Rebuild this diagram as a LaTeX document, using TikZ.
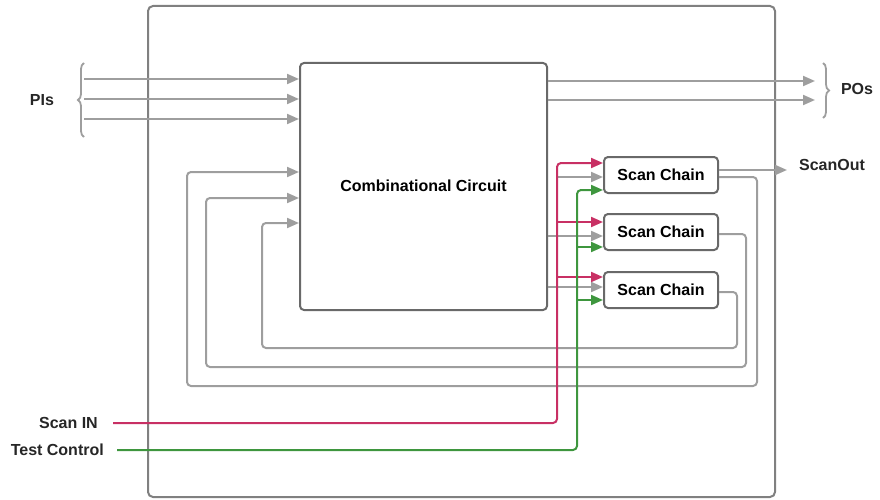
\documentclass[tikz,border=0pt]{standalone}
\usepackage{fontspec}
\setmainfont{Liberation Sans}
\usetikzlibrary{arrows.meta,calc,decorations.pathreplacing}
\usetikzlibrary{positioning}
\definecolor{wiregray}{RGB}{158,158,158}
\definecolor{boxgray}{RGB}{105,105,105}
\definecolor{scanred}{RGB}{200,48,100}
\definecolor{ctrlgreen}{RGB}{62,150,62}

\begin{document}
\begin{tikzpicture}[x=1pt,y=-1pt,
  font=\fontsize{16}{19}\selectfont\bfseries,
  blk/.style={rectangle,rounded corners=4pt,draw=boxgray,line width=2pt,fill=white,inner sep=0pt},
  wire/.style={draw=wiregray,line width=2pt,rounded corners=4pt},
  arr/.style={-{Triangle[length=12pt,width=10pt]}},
  lbl/.style={inner sep=0pt,text=black!85},
  brc/.style={draw=wiregray,line width=1.8pt,decorate,decoration={brace,amplitude=6pt}}]
\useasboundingbox (0,0) rectangle (880,500);
\node at (461.5,251.5)[rectangle,rounded corners=5pt,draw=boxgray!85,line width=2pt,minimum width=627pt,minimum height=491pt](chip){};
\node at (423.5,186.5)[blk,minimum width=247pt,minimum height=247pt](comb){\raisebox{2pt}{Combinational Circuit}};
\node at (661,175)[blk,minimum width=114pt,minimum height=36pt](sc1){Scan Chain};
\node at (661,232)[blk,minimum width=114pt,minimum height=36pt](sc2){Scan Chain};
\node at (661,290)[blk,minimum width=114pt,minimum height=36pt](sc3){Scan Chain};
\node at (42,100)[lbl](pis){PIs};
\node at (857,89)[lbl](pos){POs};
\node at (832,165)[lbl](scanout){ScanOut};
\coordinate (sin) at (113,423);
\coordinate (tin) at (117,450);
\node[lbl,left=15pt of sin](scanlbl){Scan IN};
\node[lbl,left=13pt of tin](testlbl){Test Control};

\coordinate (pi1) at (84,79);
\coordinate (pi2) at (84,99);
\coordinate (pi3) at (84,119);
\coordinate (po1) at (815,81);
\coordinate (po2) at (815,100);
\draw[brc] (84,137) -- (84,63);
\draw[brc] (823,63) -- (823,118);
\draw[wire,arr] (pi1) -- (pi1 -| comb.west);
\draw[wire,arr] (pi2) -- (pi2 -| comb.west);
\draw[wire,arr] (pi3) -- (pi3 -| comb.west);
\draw[wire,arr] (po1 -| comb.east) -- (po1);
\draw[wire,arr] (po2 -| comb.east) -- (po2);

\coordinate (so) at (787,170);
\draw[wire,arr] (so -| sc1.east) -- (so);
\coordinate (l1) at (757,386);
\coordinate (l2) at (746,367);
\coordinate (l3) at (737,348);
\coordinate (in1) at (187,172);
\coordinate (in2) at (206,198);
\coordinate (in3) at (262,223);
\draw[wire,arr] ($(sc1.east)+(0,2)$) -| (l1) -| (in1) -- (in1 -| comb.west);
\draw[wire,arr] ($(sc2.east)+(0,2)$) -| (l2) -| (in2) -- (in2 -| comb.west);
\draw[wire,arr] ($(sc3.east)+(0,2)$) -| (l3) -| (in3) -- (in3 -| comb.west);

\coordinate (rbend) at (557,423);
\coordinate (gbend) at (577,450);
\coordinate (r1) at ($(sc1.west)+(0,-12)$);
\coordinate (r2) at ($(sc2.west)+(0,-10)$);
\coordinate (r3) at ($(sc3.west)+(0,-13)$);
\coordinate (g1) at ($(sc1.west)+(0,2)$);
\coordinate (g2) at ($(sc2.west)+(0,4)$);
\coordinate (g3) at ($(sc3.west)+(0,-3)$);
\coordinate (t1) at ($(sc1.west)+(0,15)$);
\coordinate (t2) at ($(sc2.west)+(0,15)$);
\coordinate (t3) at ($(sc3.west)+(0,10)$);
\draw[wire,arr] (g1 -| rbend) -- (g1);
\draw[wire,arr] (g2 -| comb.east) -- (g2);
\draw[wire,arr] (g3 -| comb.east) -- (g3);
\draw[wire,draw=scanred,arr] (sin) -- (rbend) |- (r1);
\draw[wire,draw=scanred,arr] (r2 -| rbend) -- (r2);
\draw[wire,draw=scanred,arr] (r3 -| rbend) -- (r3);
\draw[wire,draw=ctrlgreen,arr] (tin) -- (gbend) |- (t1);
\draw[wire,draw=ctrlgreen,arr] (t2 -| gbend) -- (t2);
\draw[wire,draw=ctrlgreen,arr] (t3 -| gbend) -- (t3);
\end{tikzpicture}
\end{document}
